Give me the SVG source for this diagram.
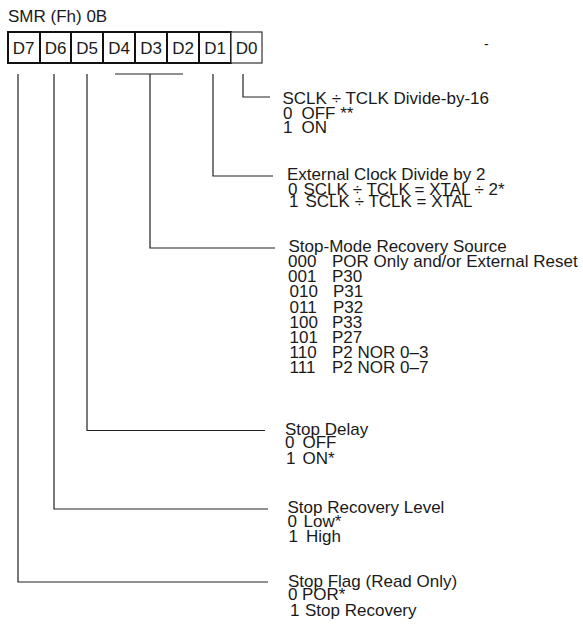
<svg xmlns="http://www.w3.org/2000/svg" width="583" height="625" viewBox="0 0 583 625">
<style>
text{font-family:"Liberation Sans",Arial,sans-serif;font-size:17px;fill:#1a1a1a}
.box{fill:#fff;stroke:#111;stroke-width:2}
.box0{fill:#fff;stroke:#333;stroke-width:1.2}
.ln{fill:none;stroke:#222;stroke-width:1.2}
.lbl{text-anchor:middle}
</style>
<rect width="583" height="625" fill="#fff"/>
<text x="8" y="22">SMR (Fh) 0B</text>
<text x="484" y="49" style="font-size:14px">-</text>
<g id="register">
<rect class="box" x="8" y="32" width="32" height="31"/>
<rect class="box" x="40" y="32" width="31" height="31"/>
<rect class="box" x="71" y="32" width="32" height="31"/>
<rect class="box" x="103" y="32" width="32" height="31"/>
<rect class="box" x="135" y="32" width="32" height="31"/>
<rect class="box" x="167" y="32" width="32" height="31"/>
<rect class="box" x="199" y="32" width="32" height="31"/>
<rect class="box0" x="231" y="32" width="31" height="31"/>
<text class="lbl" x="23.5" y="54">D7</text>
<text class="lbl" x="55.5" y="54">D6</text>
<text class="lbl" x="87" y="54">D5</text>
<text class="lbl" x="119" y="54">D4</text>
<text class="lbl" x="151" y="54">D3</text>
<text class="lbl" x="183" y="54">D2</text>
<text class="lbl" x="215" y="54">D1</text>
<text class="lbl" x="246.5" y="54">D0</text>
</g>
<g id="connectors">
<path class="ln" d="M243 74V97H270"/>
<path class="ln" d="M213 74V176H273"/>
<path class="ln" d="M115 74H183M150 74V248H275"/>
<path class="ln" d="M87 74V430.5H265"/>
<path class="ln" d="M54 74V509H268"/>
<path class="ln" d="M18 74V582H268"/>
</g>
<g id="d0">
<text x="282.5" y="104">SCLK ÷ TCLK Divide-by-16</text>
<text y="118.5"><tspan x="283">0</tspan><tspan x="301.5">OFF **</tspan></text>
<text y="133"><tspan x="283">1</tspan><tspan x="301.5">ON</tspan></text>
</g>
<g id="d1">
<text x="287" y="180">External Clock Divide by 2</text>
<text y="194.5"><tspan x="288">0</tspan><tspan x="303.5">SCLK ÷ TCLK = XTAL ÷ 2*</tspan></text>
<text y="207"><tspan x="289">1</tspan><tspan x="305.5">SCLK ÷ TCLK = XTAL</tspan></text>
</g>
<g id="d4d2">
<text x="288.5" y="252">Stop-Mode Recovery Source</text>
<text y="267"><tspan x="288">000</tspan><tspan x="332">POR Only and/or External Reset</tspan></text>
<text y="282"><tspan x="288">001</tspan><tspan x="332">P30</tspan></text>
<text y="297"><tspan x="289.5">010</tspan><tspan x="333">P31</tspan></text>
<text y="312.5"><tspan x="289.5">011</tspan><tspan x="333">P32</tspan></text>
<text y="327.5"><tspan x="289.5">100</tspan><tspan x="332">P33</tspan></text>
<text y="342.5"><tspan x="289.5">101</tspan><tspan x="332">P27</tspan></text>
<text y="357.5"><tspan x="289.5">110</tspan><tspan x="332">P2 NOR 0–3</tspan></text>
<text y="372.5"><tspan x="289.5">111</tspan><tspan x="332">P2 NOR 0–7</tspan></text>
</g>
<g id="d5">
<text x="285" y="434.5">Stop Delay</text>
<text y="448"><tspan x="285">0</tspan><tspan x="302.5">OFF</tspan></text>
<text y="464"><tspan x="286">1</tspan><tspan x="302.5">ON*</tspan></text>
</g>
<g id="d6">
<text x="287.5" y="513">Stop Recovery Level</text>
<text y="526.5"><tspan x="287.5">0</tspan><tspan x="303.5">Low*</tspan></text>
<text y="542"><tspan x="288.5">1</tspan><tspan x="306">High</tspan></text>
</g>
<g id="d7">
<text x="288" y="586.5">Stop Flag (Read Only)</text>
<text y="599.5"><tspan x="288">0</tspan><tspan x="302">POR*</tspan></text>
<text y="616"><tspan x="290">1</tspan><tspan x="305">Stop Recovery</tspan></text>
</g>
</svg>
